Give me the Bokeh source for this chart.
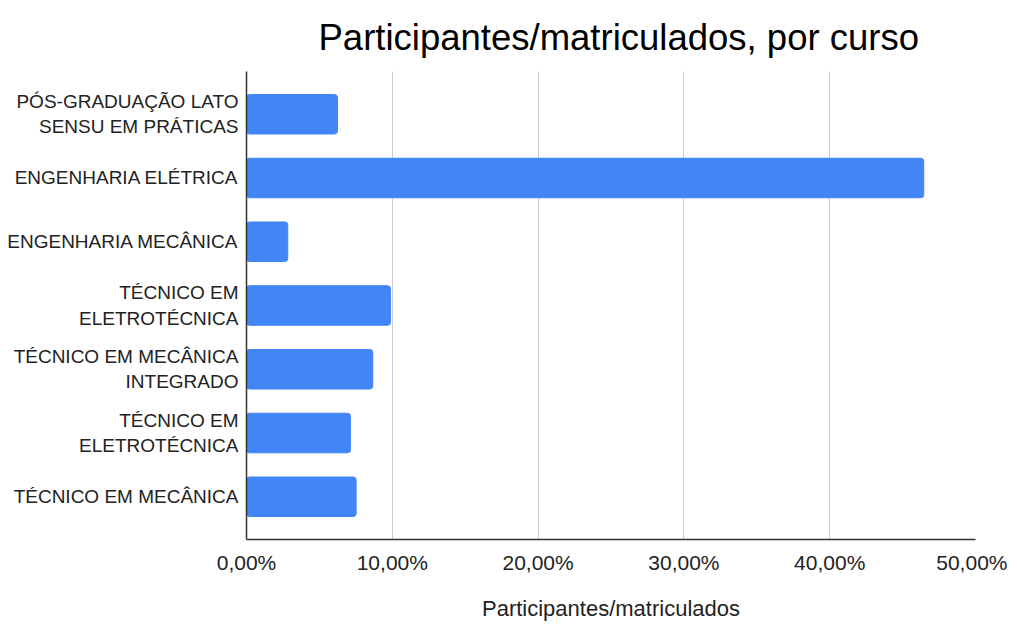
from bokeh.plotting import figure
from bokeh.models import FixedTicker, Range1d
from bokeh.embed import file_html
from bokeh.resources import INLINE

categories = [
    "PÓS-GRADUAÇÃO LATO\nSENSU EM PRÁTICAS",
    "ENGENHARIA ELÉTRICA",
    "ENGENHARIA MECÂNICA",
    "TÉCNICO EM\nELETROTÉCNICA",
    "TÉCNICO EM MECÂNICA\nINTEGRADO",
    "TÉCNICO EM\nELETROTÉCNICA",
    "TÉCNICO EM MECÂNICA",
]
values = [0.0624, 0.4645, 0.0283, 0.0988, 0.0866, 0.0713, 0.0752]
x_ticks = [0.0, 0.1, 0.2, 0.3, 0.4, 0.5]
x_tick_labels = ["0,00%", "10,00%", "20,00%", "30,00%", "40,00%", "50,00%"]

positions = list(range(len(categories)))

p = figure(
    output_backend="svg", toolbar_location=None,
    frame_width=729, frame_height=468,
    min_border_left=246, min_border_right=32, min_border_top=68, min_border_bottom=79,
    x_range=Range1d(0, 0.5), y_range=Range1d(6.67, -0.67),
    title="Participantes/matriculados, por curso",
)
p.title.text_font = "Liberation Sans"
p.title.text_font_size = "36.5px"
p.title.text_font_style = "normal"
p.title.text_color = "#000000"
p.title.align = "left"
p.title.offset = 72
p.title.standoff = 28

p.hbar(y=positions, right=values, left=0, height=0.62, color="#4285F4", line_color="#4285F4", border_radius=3)

p.outline_line_color = None
p.background_fill_color = "white"
p.border_fill_color = "white"

p.xaxis.ticker = FixedTicker(ticks=x_ticks)
p.xaxis.major_label_overrides = {t: l for t, l in zip(x_ticks, x_tick_labels)}
p.xaxis.major_tick_line_color = None
p.xaxis.major_tick_out = 0
p.xaxis.major_tick_in = 0
p.xaxis.minor_tick_line_color = None
p.xaxis.axis_line_color = "#333333"
p.xaxis.axis_line_width = 1.5
p.xaxis.major_label_text_font = "Liberation Sans"
p.xaxis.major_label_text_font_size = "21px"
p.xaxis.major_label_text_color = "#222222"
p.xaxis.major_label_standoff = 11
p.xaxis.axis_label = "Participantes/matriculados"
p.xaxis.axis_label_text_font = "Liberation Sans"
p.xaxis.axis_label_text_font_size = "22px"
p.xaxis.axis_label_text_font_style = "normal"
p.xaxis.axis_label_text_color = "#222222"
p.xaxis.axis_label_standoff = 19

p.yaxis.ticker = FixedTicker(ticks=positions)
p.yaxis.major_label_overrides = {i: c for i, c in zip(positions, categories)}
p.yaxis.major_tick_line_color = None
p.yaxis.major_tick_out = 0
p.yaxis.major_tick_in = 0
p.yaxis.minor_tick_line_color = None
p.yaxis.axis_line_color = "#333333"
p.yaxis.axis_line_width = 1.5
p.yaxis.major_label_text_font = "Liberation Sans"
p.yaxis.major_label_text_font_size = "19px"
p.yaxis.major_label_text_color = "#222222"
p.yaxis.major_label_standoff = 8

p.xgrid.grid_line_color = "#cccccc"
p.xgrid.grid_line_width = 1
p.ygrid.grid_line_color = None

open("out.html", "w").write(file_html(p, INLINE))
